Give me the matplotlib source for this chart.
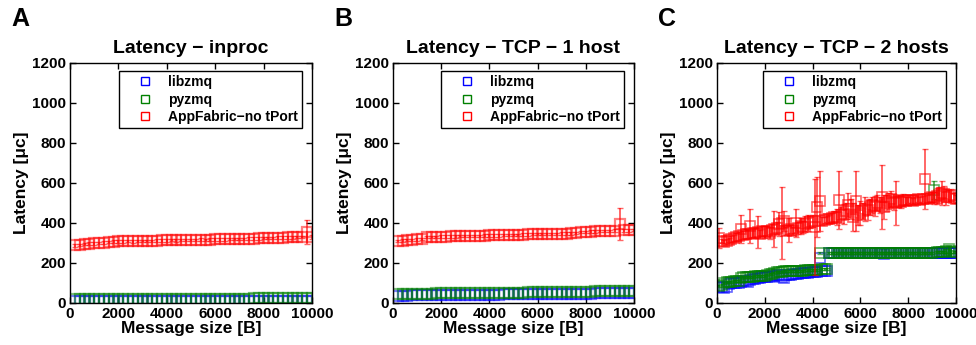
import numpy as np
import matplotlib.pyplot as plt

plt.rcParams['font.family'] = ['Liberation Sans', 'DejaVu Sans']
plt.rcParams['font.weight'] = 'bold'

# ---- data ----
series_names = ['libzmq', 'pyzmq', 'AppFabric\u2212no tPort']
colors = ['#0000ff', '#008000', '#ff0000']

x_ab = np.arange(200, 10001, 200)

a_libzmq = [9, 9, 10, 10, 9, 10, 10, 9, 10, 10, 10, 9, 10, 10, 10, 9, 10, 10, 10, 10,
            10, 10, 10, 10, 10, 10, 10, 10, 10, 10, 10, 10, 10, 10, 10, 10, 10, 10, 10, 10,
            10, 10, 10, 10, 10, 10, 10, 10, 11, 11]
a_pyzmq = [18, 19, 19, 19, 20, 20, 19, 20, 20, 20, 20, 20, 20, 21, 20, 20, 21, 20, 21, 21,
           21, 21, 21, 21, 21, 22, 21, 22, 22, 22, 22, 22, 22, 22, 22, 22, 22, 23, 23, 23,
           23, 23, 23, 23, 23, 23, 23, 23, 24, 24]
a_app = [288, 290, 295, 297, 298, 300, 302, 305, 307, 308, 308, 309, 308, 310, 310, 311, 310, 312, 313, 313,
         314, 313, 315, 315, 316, 316, 317, 316, 317, 318, 318, 318, 319, 320, 320, 321, 322, 322, 323, 324,
         325, 326, 327, 327, 328, 328, 329, 330, 355, 330]
a_app_err = [6] * 48 + [62, 8]

b_libzmq = [36, 37, 37, 38, 38, 38, 39, 39, 39, 39, 40, 40, 40, 40, 41, 41, 41, 41, 42, 42,
            42, 42, 43, 43, 43, 43, 44, 44, 44, 44, 45, 45, 45, 45, 46, 46, 46, 46, 47, 47,
            47, 48, 48, 48, 49, 49, 49, 50, 50, 50]
b_pyzmq = [44, 45, 45, 46, 46, 47, 47, 47, 48, 48, 48, 48, 49, 49, 49, 50, 50, 50, 50, 51,
           51, 51, 51, 52, 52, 52, 52, 53, 53, 53, 53, 54, 54, 54, 55, 55, 55, 56, 56, 57,
           57, 58, 58, 58, 59, 59, 60, 60, 60, 60]
b_app = [310, 312, 314, 316, 318, 320, 330, 331, 331, 332, 332, 333, 333, 334, 334, 335, 335, 336, 337, 338,
         338, 338, 339, 340, 341, 341, 342, 343, 344, 344, 345, 345, 346, 346, 347, 347, 348, 349, 355, 356,
         357, 358, 359, 360, 361, 362, 395, 363, 364, 365]
b_app_err = [6] * 46 + [82, 7, 7, 7]

x_c = np.arange(100, 10001, 100)

c_libzmq = [80, 80, 75, 80, 95, 100, 100, 100, 102, 105, 108, 110, 105, 115, 120, 122, 125, 127, 128, 130,
            130, 132, 135, 135, 138, 140, 130, 125, 138, 140, 142, 143, 145, 146, 148, 150, 150, 152, 153, 155,
            155, 157, 225, 158, 160, 160, 250, 250, 250, 250, 250, 250, 250, 250, 250, 250, 250, 250, 250, 250,
            250, 250, 250, 250, 250, 250, 250, 250, 250, 245, 250, 250, 250, 250, 250, 250, 250, 250, 250, 250,
            250, 250, 250, 250, 250, 250, 250, 250, 250, 250, 250, 250, 250, 250, 250, 250, 252, 252, 252, 252]
c_pyzmq = [85, 90, 100, 105, 105, 107, 108, 110, 112, 125, 128, 130, 130, 132, 132, 133, 134, 135, 136, 137,
           140, 143, 146, 150, 153, 155, 157, 158, 158, 160, 160, 160, 161, 161, 162, 162, 163, 163, 164, 164,
           165, 166, 250, 170, 170, 170, 252, 252, 252, 252, 252, 252, 252, 252, 252, 252, 252, 252, 252, 252,
           252, 252, 252, 252, 252, 252, 252, 252, 252, 252, 252, 252, 252, 252, 252, 252, 252, 252, 252, 252,
           252, 252, 252, 252, 252, 252, 252, 252, 252, 252, 565, 255, 255, 255, 255, 260, 270, 258, 255, 255]
c_pyzmq_err = [5] * 90 + [45, 5, 5, 5, 5, 8, 15, 6, 5, 5]
c_app = [325, 310, 305, 310, 315, 318, 325, 330, 335, 370, 340, 345, 345, 385, 350, 350, 355, 345, 360, 355,
         360, 350, 365, 370, 375, 395, 400, 410, 360, 365, 370, 360, 400, 375, 385, 380, 395, 400, 405, 410,
         380, 480, 510, 410, 415, 418, 420, 425, 430, 430, 515, 440, 445, 460, 490, 470, 430, 510, 440, 450,
         460, 470, 465, 480, 490, 485, 500, 490, 530, 480, 500, 510, 520, 505, 500, 510, 505, 515, 510, 515,
         515, 512, 515, 518, 515, 520, 620, 520, 525, 530, 525, 535, 540, 550, 545, 530, 535, 540, 525, 520]
c_app_err = [50, 10, 10, 10, 10, 15, 15, 20, 20, 70, 20, 25, 20, 85, 20, 25, 80, 20, 25, 30,
             25, 30, 30, 90, 30, 60, 180, 50, 20, 60, 20, 20, 70, 30, 40, 30, 40, 40, 30, 30,
             240, 150, 150, 20, 15, 15, 20, 25, 30, 40, 145, 40, 50, 40, 60, 50, 70, 150, 50, 60,
             40, 60, 50, 40, 40, 50, 40, 40, 160, 60, 40, 40, 40, 40, 110, 30, 30, 30, 20, 15,
             15, 15, 15, 15, 15, 15, 150, 20, 20, 25, 30, 40, 40, 60, 40, 40, 30, 30, 25, 20]

panels = [
    ('A', 'Latency \u2212 inproc', x_ab,
     [(a_libzmq, None), (a_pyzmq, None), (a_app, a_app_err)]),
    ('B', 'Latency \u2212 TCP \u2212 1 host', x_ab,
     [(b_libzmq, None), (b_pyzmq, None), (b_app, b_app_err)]),
    ('C', 'Latency \u2212 TCP \u2212 2 hosts', x_c,
     [(c_libzmq, None), (c_pyzmq, c_pyzmq_err), (c_app, c_app_err)]),
]

fig = plt.figure(figsize=(9.76, 3.45), dpi=100)
W, H = 976, 345
boxes = [(70, 242), (393, 241), (717, 239)]

for (letter, title, x, data), (left, width) in zip(panels, boxes):
    ax = fig.add_axes([left / W, 42 / H, width / W, 240 / H])
    dense = len(x) < 80
    for (y, err), c, name in zip(data, colors, series_names):
        if err is not None:
            ax.errorbar(x, y, yerr=err, fmt='none', ecolor=c, elinewidth=1.4,
                        capsize=2.5, alpha=0.6)
        ax.plot(x, y, 's', mfc='none', mec=c, ms=6.5 if dense else 6.5,
                mew=1.6 if dense else 1.2, alpha=0.5 if dense else 0.6,
                label=name)
    ax.set_xlim(0, 10000)
    ax.set_ylim(0, 1200)
    ax.set_xticks(range(0, 10001, 2000))
    ax.set_yticks(range(0, 1201, 200))
    ax.tick_params(direction='in', top=True, right=True, labelsize=11,
                   length=4, width=1, pad=3)
    for lab in ax.get_xticklabels() + ax.get_yticklabels():
        lab.set_fontweight('bold')
    for s in ax.spines.values():
        s.set_linewidth(1.0)
    ax.set_xlabel('Message size [B]', fontsize=12.5, fontweight='bold', labelpad=0)
    ax.set_ylabel('Latency [\u03bcc]', fontsize=12.5, fontweight='bold', labelpad=2)
    ax.set_title(title, fontsize=14, fontweight='bold', pad=7)
    leg = ax.legend(loc='upper right', bbox_to_anchor=(1 - 10 / width, 1 - 8 / 240),
                    borderaxespad=0,
                    prop={'weight': 'bold', 'size': 10}, fancybox=False,
                    edgecolor='black', framealpha=1, handletextpad=0.1,
                    borderpad=0.3, labelspacing=0.25, handlelength=3.1)
    for h in leg.legend_handles:
        h.set_alpha(1)
        h.set_markeredgewidth(1.0)
        h.set_markersize(6)
    leg.get_frame().set_linewidth(1.0)
    fig.text((left - 59) / W, 1 - 19 / H, letter, fontsize=18,
             fontweight='bold', va='center', ha='left')

fig.savefig('out.png', dpi=100)
